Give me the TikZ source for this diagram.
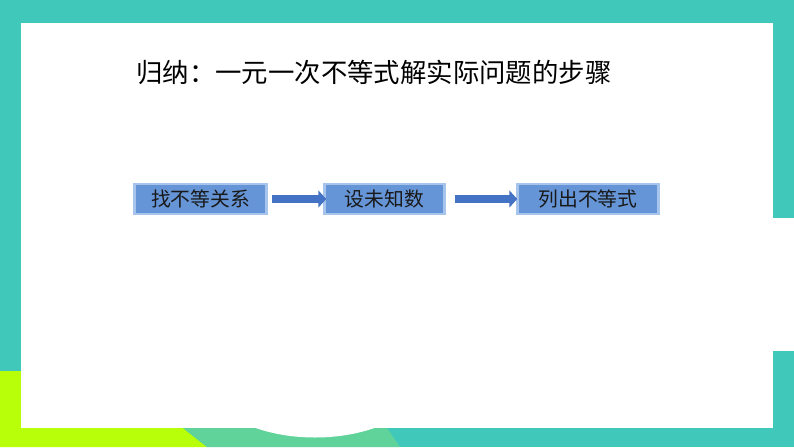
\documentclass[tikz,border=0pt]{standalone}
\usepackage{fontspec}
\newfontfamily\cjk{Noto Sans CJK SC}
\usetikzlibrary{arrows.meta}
\definecolor{teal1}{HTML}{40C9BA}
\definecolor{lime1}{HTML}{B8FF0A}
\definecolor{green1}{HTML}{5FD39A}
\definecolor{boxfill}{HTML}{6595D6}
\definecolor{boxedge}{HTML}{A6C4EC}
\definecolor{arrowblue}{HTML}{4472C4}
\tikzset{
  stepbox/.style={draw=boxedge, line width=2.5pt, fill=boxfill, minimum height=30pt,
    inner sep=0pt, font=\cjk\fontsize{19.8pt}{23pt}\selectfont, text=black!90},
  flowarrow/.style={draw=arrowblue, line width=8pt, -{Triangle[length=8pt,width=17pt]}}
}
\begin{document}
\begin{tikzpicture}[x=1pt,y=-1pt]
\useasboundingbox (0,0) rectangle (794,447);
% background frame
\fill[teal1] (0,0) rectangle (794,447);
\fill[white] (773,218) rectangle (794,351);
\fill[lime1] (0,371) rectangle (21,447);
\fill[lime1] (0,428) -- (183,428) -- (207,447) -- (0,447) -- cycle;
\fill[green1] (183,428) -- (387,428) -- (400,447) -- (207,447) -- cycle;
\fill[white] (21,23) rectangle (773,428);
\fill[white] (253,427) .. controls (290,441) and (340,441) .. (377,427) -- cycle;
% title
\node[anchor=west, inner sep=0pt, font=\cjk\fontsize{26.4pt}{31pt}\selectfont, text=black] (title) at (136,72) {归纳：一元一次不等式解实际问题的步骤};
% boxes
\node[stepbox, minimum width=132pt] (b1) at (200.5,199) {找不等关系};
\node[stepbox, minimum width=120pt] (b2) at (384.5,199) {设未知数};
\node[stepbox, minimum width=141pt] (b3) at (588,199) {列出不等式};
% arrows
\draw[flowarrow] ([xshift=4pt]b1.east) -- ([xshift=3pt]b2.west);
\draw[flowarrow] ([xshift=9pt]b2.east) -- ([xshift=1pt]b3.west);
\end{tikzpicture}
\end{document}
